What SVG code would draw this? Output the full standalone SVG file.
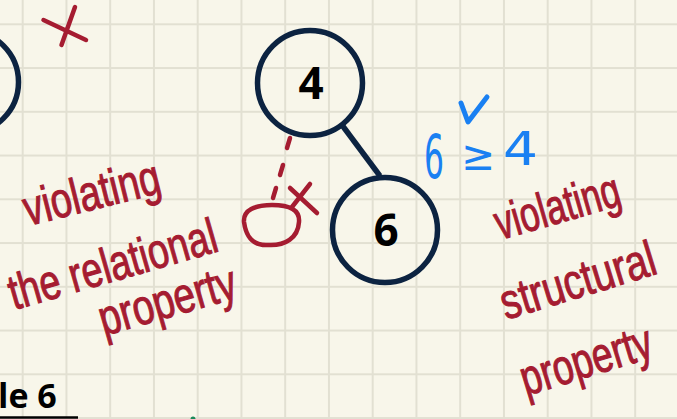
<svg xmlns="http://www.w3.org/2000/svg" width="677" height="419" viewBox="0 0 677 419">
<defs>
<pattern id="grid" patternUnits="userSpaceOnUse" x="21.7" y="23.3" width="43.75" height="43.75">
<path d="M1 0V43.75M0 1H43.75" stroke="#e2e0d2" stroke-width="2" fill="none"/>
</pattern>
<style>
.node{fill:none;stroke:#0c2341;stroke-width:5.5}
.lbl{font-family:"Open Sans","DejaVu Sans",sans-serif;font-weight:bold;font-size:44px;fill:#000;text-anchor:middle}
.red{fill:#a51c31;stroke:#a51c31;stroke-width:0.8;font-family:"Liberation Sans","DejaVu Sans",sans-serif}
.mark{fill:none;stroke:#a51c31;stroke-width:4.5;stroke-linecap:round;stroke-linejoin:round}
.blue{fill:#1a80f2;font-family:"DejaVu Sans",sans-serif}
.bmark{fill:none;stroke:#1a80f2;stroke-width:5;stroke-linecap:round;stroke-linejoin:round}
</style>
</defs>
<rect width="677" height="419" fill="#f8f6ea"/>
<rect width="677" height="419" fill="url(#grid)"/>

<g id="connectors">
<line x1="342" y1="125" x2="380" y2="176" stroke="#0c2341" stroke-width="5.5"/>
<path class="mark" d="M290 138L287 148M283 165L280 175M276 188L273 198" />
</g>

<g id="node-left">
<circle class="node" cx="-33" cy="82" r="51.5"/>
</g>
<g id="node-4">
<circle class="node" cx="310" cy="83" r="52.5"/>
<text class="lbl" x="311" y="99">4</text>
</g>
<g id="node-6">
<circle class="node" cx="385" cy="230" r="52.5"/>
<text class="lbl" x="386" y="246">6</text>
</g>

<g id="red-marks">
<path class="mark" d="M75 7L61.5 45M43.5 20L86 40"/>
<path class="mark" d="M310 184L292 207M290 188L317 213"/>
<path class="mark" d="M272 205C255 205 243 210 244 222C246 236 252 246 268 245C285 246 298 238 299 222C300 210 290 205 272 205Z"/>
</g>

<g id="note-left">
<text class="red" font-size="38" transform="translate(28 226) rotate(-14) scale(1 1.32)">violating</text>
<text class="red" font-size="37.5" transform="translate(14 310) rotate(-16) scale(1 1.32)">the relational</text>
<text class="red" font-size="38.5" transform="translate(104 336) rotate(-16) scale(1 1.3)">property</text>
</g>

<g id="note-right">
<text class="red" font-size="35" transform="translate(500 240) rotate(-16) scale(1 1.4)">violating</text>
<text class="red" font-size="39" transform="translate(506 320) rotate(-17) scale(1 1.28)">structural</text>
<text class="red" font-size="37" transform="translate(526 396) rotate(-17) scale(1 1.35)">property</text>
</g>

<g id="blue-note">
<text class="blue" x="424" y="178" font-size="60" textLength="20" lengthAdjust="spacingAndGlyphs">6</text>
<text class="blue" x="461" y="170" font-size="42" textLength="34" lengthAdjust="spacingAndGlyphs">≥</text>
<text class="blue" x="503" y="165" font-size="46" textLength="35" lengthAdjust="spacingAndGlyphs">4</text>
<path class="bmark" d="M461 103L468 122L487 97"/>
</g>

<g id="caption">
<text x="-2" y="408" font-family="Open Sans, DejaVu Sans, sans-serif" font-weight="bold" font-size="34" fill="#000">le 6</text>
<line x1="0" y1="417.5" x2="78" y2="417.5" stroke="#000" stroke-width="2.5"/>
<circle cx="193" cy="419" r="2.5" fill="#1a8a5a"/>
</g>
</svg>
